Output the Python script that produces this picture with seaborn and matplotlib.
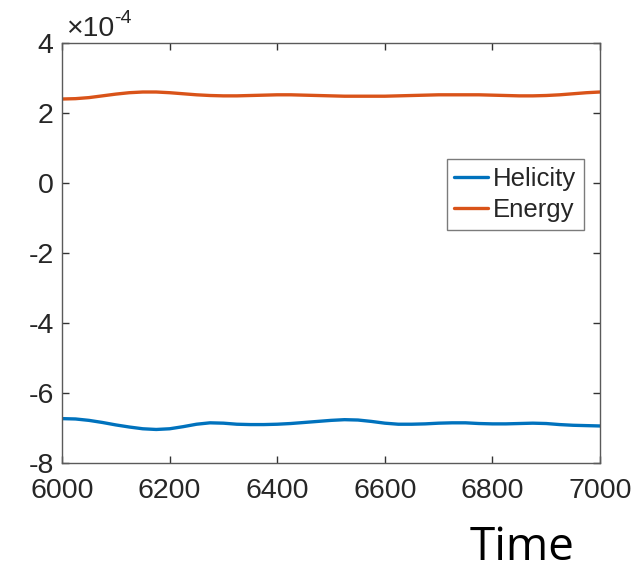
import numpy as np
import pandas as pd
import seaborn as sns
import matplotlib
matplotlib.use("Agg")
import matplotlib.pyplot as plt
from matplotlib.ticker import FixedLocator, FuncFormatter
from matplotlib.transforms import offset_copy

# Time samples
time = [6000, 6025, 6050, 6075, 6100, 6125, 6150, 6175, 6200, 6225,
        6250, 6275, 6300, 6325, 6350, 6375, 6400, 6425, 6450, 6475,
        6500, 6525, 6550, 6575, 6600, 6625, 6650, 6675, 6700, 6725,
        6750, 6775, 6800, 6825, 6850, 6875, 6900, 6925, 6950, 6975, 7000]

# Values in units of 1e-4
helicity = [-6.73, -6.74, -6.78, -6.84, -6.91, -6.97, -7.02, -7.04, -7.02, -6.96,
            -6.89, -6.85, -6.86, -6.89, -6.90, -6.90, -6.89, -6.87, -6.84, -6.81,
            -6.78, -6.76, -6.77, -6.81, -6.86, -6.89, -6.89, -6.88, -6.86, -6.85,
            -6.85, -6.87, -6.88, -6.88, -6.87, -6.86, -6.87, -6.90, -6.92, -6.93, -6.94]
energy = [2.40, 2.41, 2.44, 2.49, 2.54, 2.58, 2.60, 2.60, 2.58, 2.55,
          2.52, 2.50, 2.49, 2.49, 2.50, 2.51, 2.52, 2.52, 2.51, 2.50,
          2.49, 2.48, 2.48, 2.48, 2.48, 2.49, 2.50, 2.51, 2.52, 2.52,
          2.52, 2.52, 2.51, 2.50, 2.49, 2.49, 2.50, 2.52, 2.55, 2.58, 2.60]

series_names = ["Helicity", "Energy"]
series_colors = ["#0072BD", "#D95319"]
x_ticks = [6000, 6200, 6400, 6600, 6800, 7000]
y_ticks = [-8, -6, -4, -2, 0, 2, 4]

df = pd.DataFrame({
    "Time": time * 2,
    "value": helicity + energy,
    "series": [series_names[0]] * len(time) + [series_names[1]] * len(time),
})

sns.set_theme(style="white")
plt.rcParams["font.family"] = ["Liberation Sans", "DejaVu Sans"]

fig = plt.figure(figsize=(6.4, 5.71), dpi=100)
ax = fig.add_axes([0.097, 0.189, 0.8405, 0.7357])

sns.lineplot(data=df, x="Time", y="value", hue="series",
             palette=series_colors, hue_order=series_names,
             linewidth=2.4, ax=ax, sort=False)

ax.set_xlim(6000, 7000)
ax.set_ylim(-8, 4)
ax.xaxis.set_major_locator(FixedLocator(x_ticks))
ax.yaxis.set_major_locator(FixedLocator(y_ticks))
ax.yaxis.set_major_formatter(FuncFormatter(lambda v, p: f"{int(v)}"))
ax.xaxis.set_major_formatter(FuncFormatter(lambda v, p: f"{int(v)}"))

edge = "#5a5a5a"
for s in ax.spines.values():
    s.set_visible(True)
    s.set_color(edge)
    s.set_linewidth(1.0)

ax.tick_params(axis="both", which="major", direction="in", length=5, width=1,
               color="#333333", labelsize=20.5, labelcolor="#262626",
               top=True, right=True, bottom=True, left=True)
ax.tick_params(axis="x", pad=11)
ax.tick_params(axis="y", pad=6)
ax.set_xlabel("")
ax.set_ylabel("")

# Exponent label above the y axis
base = ax.text(0.0, 1.0, "\u00d710", transform=offset_copy(ax.transAxes, fig=fig, x=2.5, y=5, units="points"),
               ha="left", va="baseline", fontsize=20.5, color="#262626")
fig.canvas.draw()
bb = base.get_window_extent()
main_baseline_px = ax.transAxes.transform((0, 1.0))[1] + 5 * fig.dpi / 72
fig.text(bb.x1 / fig.bbox.width, (main_baseline_px + 13) / fig.bbox.height, "-4",
         ha="left", va="baseline", fontsize=14, color="#262626")

leg = ax.legend(loc="upper right", bbox_to_anchor=(0.97, 0.724), borderaxespad=0,
                fontsize=18.5, frameon=True, fancybox=False, handlelength=1.3,
                handletextpad=0.2, borderpad=0.3, labelspacing=0.3)
leg.get_frame().set_edgecolor(edge)
leg.get_frame().set_linewidth(1.0)
leg.set_title(None)

fig.text(0.815, 1 - 560 / 571, "Time", ha="center", va="baseline", fontsize=33,
         family="Open Sans", color="black")

fig.savefig("out.png", dpi=100, facecolor="white")
